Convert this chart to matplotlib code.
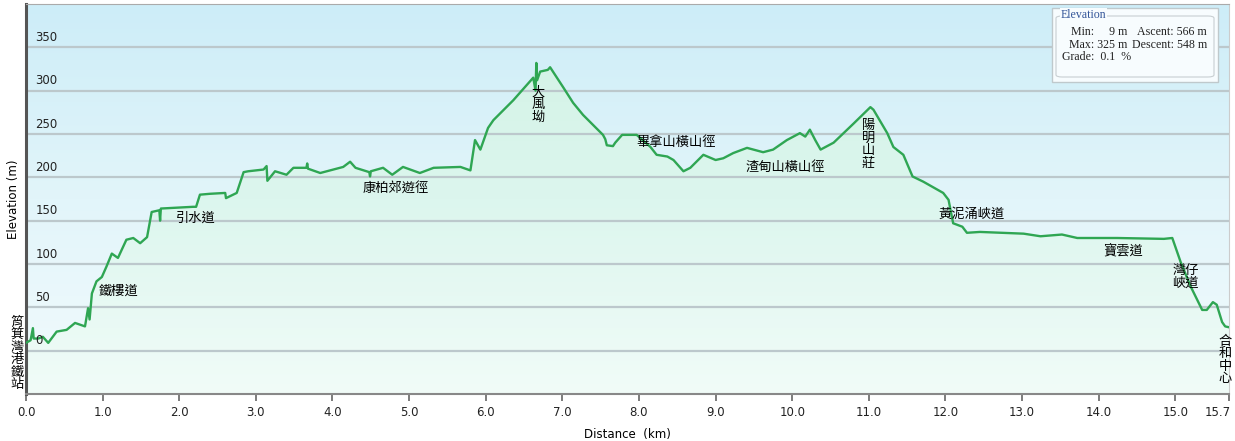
"""Elevation profile: 筲箕灣 -> 合和中心 hike."""
import matplotlib
matplotlib.use("Agg")
import matplotlib.pyplot as plt
import matplotlib.transforms as mtransforms
import numpy as np
from matplotlib.colors import LinearSegmentedColormap
from matplotlib.patches import FancyBboxPatch

plt.rcParams["font.family"] = ["DejaVu Sans", "Noto Sans CJK TC"]

# profile (km, m)
dist_km = [0.00, 0.06, 0.09, 0.10, 0.16, 0.22, 0.29, 0.40, 0.53, 0.64, 0.77, 0.81,
           0.83, 0.86, 0.92, 0.99, 1.05, 1.12, 1.20, 1.31, 1.40, 1.49, 1.58, 1.64,
           1.74, 1.75, 1.76, 2.18, 2.22, 2.27, 2.40, 2.60, 2.61, 2.75, 2.84, 2.90,
           3.10, 3.14, 3.15, 3.25, 3.40, 3.49, 3.66, 3.67, 3.68, 3.84, 4.14, 4.23,
           4.30, 4.48, 4.49, 4.50, 4.66, 4.78, 4.92, 5.14, 5.32, 5.67, 5.80, 5.86,
           5.93, 6.03, 6.10, 6.36, 6.62, 6.65, 6.66, 6.67, 6.71, 6.81, 6.84, 7.01,
           7.14, 7.27, 7.53, 7.56, 7.58, 7.66, 7.69, 7.78, 7.97, 8.15, 8.23, 8.37,
           8.45, 8.58, 8.67, 8.84, 9.00, 9.10, 9.23, 9.41, 9.62, 9.75, 9.93, 10.10,
           10.17, 10.23, 10.30, 10.37, 10.54, 10.67, 10.80, 11.02, 11.06, 11.24,
           11.32, 11.45, 11.57, 11.71, 11.97, 12.04, 12.10, 12.22, 12.28, 12.45,
           13.02, 13.24, 13.52, 13.72, 14.24, 14.85, 14.96, 15.07, 15.20, 15.35,
           15.41, 15.49, 15.54, 15.61, 15.65, 15.70]
elev_m = [9, 12, 26, 14, 14, 16, 9, 22, 24, 32, 28, 49,
          36, 66, 80, 85, 97, 112, 107, 128, 130, 124, 131, 160,
          162, 150, 164, 166, 166, 180, 181, 182, 176, 182, 206, 207,
          209, 213, 196, 207, 203, 211, 211, 216, 210, 205, 212, 218,
          211, 206, 201, 207, 211, 203, 212, 205, 211, 212, 208, 243,
          232, 257, 266, 289, 315, 300, 332, 312, 322, 324, 327, 304,
          286, 272, 249, 244, 237, 236, 240, 249, 249, 235, 226, 224,
          220, 207, 211, 226, 220, 222, 228, 234, 229, 232, 243, 251,
          247, 255, 243, 232, 240, 251, 262, 281, 278, 251,
          235, 226, 201, 195, 182, 174, 147, 143, 136, 137,
          135, 132, 134, 130, 130, 129, 130, 102, 74, 47,
          47, 56, 53, 33, 28, 27]

y_ticks = [0, 50, 100, 150, 200, 250, 300, 350]
x_ticks = [0.0, 1.0, 2.0, 3.0, 4.0, 5.0, 6.0, 7.0, 8.0, 9.0, 10.0, 11.0, 12.0,
           13.0, 14.0, 15.0, 15.7]

place_names = ["筲箕灣港鐵站", "鐵樓道", "引水道", "康柏郊遊徑", "大風坳", "畢拿山橫山徑",
               "渣甸山橫山徑", "陽明山莊", "黃泥涌峽道", "寶雲道", "灣仔\n峽道", "合和中心"]
place_x = [-0.12, 1.21, 2.21, 4.82, 6.68, 8.49, 9.91, 10.99, 12.34, 14.32, 15.13, 15.65]
place_y = [-3, 69, 153, 187, 284, 240, 212, 238, 157, 115, 85, -11]
place_vertical = [True, False, False, False, True, False, False, True, False, False,
                  False, True]

stats_left = ["Min:     9 m", "Max: 325 m"]
stats_right = ["Ascent: 566 m", "Descent: 548 m"]
stats_grade = "Grade:  0.1  %"

X0, X1 = 0.0, 15.7
Y0, Y1 = -50, 400

fig = plt.figure(figsize=(12.35, 4.41), dpi=100)
ax = fig.add_axes([26 / 1235, 1 - 394 / 441, (1229 - 26) / 1235, 390 / 441])
ax.set_xlim(X0, X1)
ax.set_ylim(Y0, Y1)

# sky gradient
sky = LinearSegmentedColormap.from_list("sky", ["#f2fbfd", "#e2f5fa", "#cdedf8"])
grad = np.linspace(0, 1, 256).reshape(-1, 1)
ax.imshow(grad, cmap=sky, origin="lower", aspect="auto",
          extent=[X0, X1, Y0, Y1], zorder=0)

# green fill under the profile
poly = ax.fill_between(dist_km, elev_m, Y0, color="none", zorder=1)
green = LinearSegmentedColormap.from_list("grn", ["#f1fcf8", "#dcf6ee", "#d2f2e4"])
im = ax.imshow(grad, cmap=green, origin="lower", aspect="auto",
               extent=[X0, X1, Y0, Y1], zorder=1)
im.set_clip_path(poly.get_paths()[0], transform=ax.transData)

for yt in y_ticks:
    ax.axhline(yt, color="#bcc8cc", linewidth=1.6, zorder=2)
    ax.text(0.12, yt + 4, str(yt), fontsize=8.5, color="#222222",
            ha="left", va="bottom", zorder=5)

ax.plot(dist_km, elev_m, color="#2fa653", linewidth=1.7, zorder=3)

ax.set_yticks([])
ax.set_xticks(x_ticks)
ax.set_xticklabels([f"{v:.1f}" for v in x_ticks], fontsize=8.5, color="#222222")
ax.tick_params(axis="x", direction="out", length=5, width=1.2, color="#666666", pad=4)
last = ax.get_xticklabels()[-1]
last.set_horizontalalignment("right")
last.set_transform(last.get_transform() +
                   mtransforms.ScaledTranslation(2 / 100, 0, fig.dpi_scale_trans))
ax.spines["left"].set_color("#555555")
ax.spines["left"].set_linewidth(2.2)
ax.spines["bottom"].set_color("#888888")
ax.spines["bottom"].set_linewidth(1.5)
ax.spines["top"].set_color("#aaaaaa")
ax.spines["right"].set_color("#cccccc")

ax.set_xlabel("Distance  (km)", fontsize=8.5, labelpad=6)
ax.set_ylabel("Elevation (m)", fontsize=8.5, labelpad=4)

for name, x, y, vert in zip(place_names, place_x, place_y, place_vertical):
    txt = "\n".join(name) if vert else name
    ax.text(x, y, txt, fontsize=9.5, ha="center", va="center",
            family=["Noto Sans CJK TC", "DejaVu Sans"], linespacing=0.95 if vert else 1.0,
            clip_on=False, zorder=6)

# stats box
box = FancyBboxPatch((1052 / 1235, 1 - 82 / 441), 166 / 1235, 74 / 441,
                     boxstyle="square,pad=0", transform=fig.transFigure,
                     facecolor="#f7fcfe", edgecolor="#bfc9cc", linewidth=1, zorder=7)
fig.patches.append(box)
inner = FancyBboxPatch((1056 / 1235, 1 - 77 / 441), 158 / 1235, 61 / 441,
                       boxstyle="round,pad=0,rounding_size=0.005",
                       transform=fig.transFigure, facecolor="none",
                       edgecolor="#c8cfd2", linewidth=0.8, zorder=8)
fig.patches.append(inner)
fig.text(1061 / 1235, 1 - 15 / 441, "Elevation", fontsize=8.6, color="#335599",
         family="Liberation Serif", va="center", ha="left",
         bbox=dict(facecolor="#f7fcfe", edgecolor="none", pad=0.5), zorder=9)
row_y = [32, 45]
for lt, rt, ry in zip(stats_left, stats_right, row_y):
    fig.text(1127 / 1235, 1 - ry / 441, lt, fontsize=8.6, family="Liberation Serif",
             ha="right", va="center", color="#222222", zorder=10)
    fig.text(1207 / 1235, 1 - ry / 441, rt, fontsize=8.6, family="Liberation Serif",
             ha="right", va="center", color="#222222", zorder=10)
fig.text(1062 / 1235, 1 - 57 / 441, stats_grade, fontsize=8.6, family="Liberation Serif",
         ha="left", va="center", color="#222222", zorder=10)

fig.savefig("out.png", dpi=100)
